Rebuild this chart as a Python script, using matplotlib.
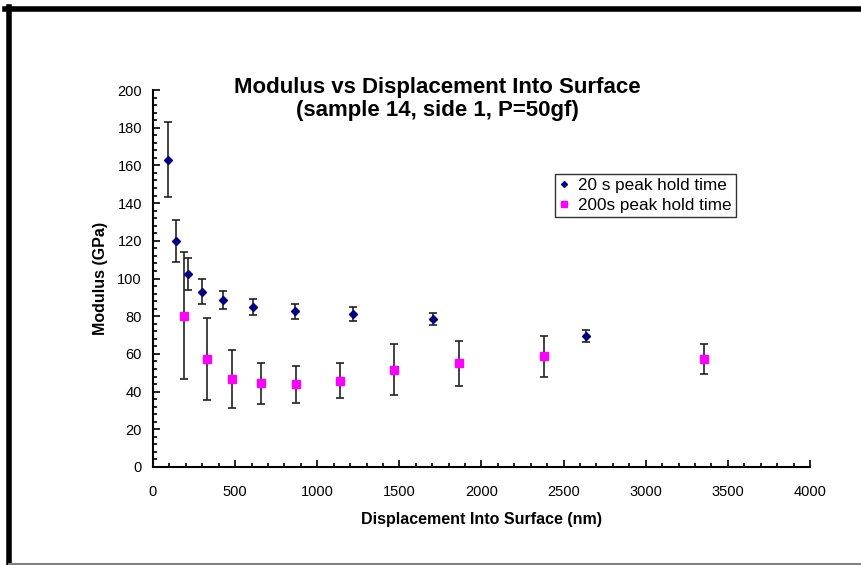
import matplotlib
matplotlib.use("Agg")
import matplotlib.pyplot as plt
from matplotlib.lines import Line2D
from matplotlib.ticker import MultipleLocator

plt.rcParams['font.family'] = ['Liberation Sans', 'DejaVu Sans']

# 20 s peak hold time
disp_20s = [89, 142, 211, 300, 428, 609, 865, 1218, 1703, 2636]
mod_20s = [163.0, 120.0, 102.4, 93.0, 88.5, 85.0, 82.5, 81.2, 78.6, 69.6]
err_20s = [20.0, 11.0, 8.5, 6.7, 4.9, 4.2, 4.0, 3.6, 3.3, 3.2]

# 200 s peak hold time
disp_200s = [191, 329, 479, 658, 869, 1140, 1465, 1863, 2382, 3353]
mod_200s = [80.3, 57.5, 46.8, 44.3, 43.8, 45.8, 51.5, 55.0, 58.8, 57.2]
err_200s = [33.7, 21.8, 15.3, 10.8, 9.7, 9.3, 13.5, 11.9, 10.8, 7.9]

label_20s = "20 s peak hold time"
label_200s = "200s peak hold time"
title = "Modulus vs Displacement Into Surface\n(sample 14, side 1, P=50gf)"
xlabel = "Displacement Into Surface (nm)"
ylabel = "Modulus (GPa)"

W, H = 862, 565
fig = plt.figure(figsize=(W / 100, H / 100), dpi=100)
ax = fig.add_axes([153 / W, 1 - 467 / H, 657 / W, 377 / H])

ebar = dict(ecolor="#222222", elinewidth=1.2, capsize=3, capthick=1.2, linestyle="none")
ax.errorbar(disp_20s, mod_20s, yerr=err_20s, marker="D", markersize=4,
            color="#000080", mec="#000080", zorder=3, **ebar)
ax.errorbar(disp_200s, mod_200s, yerr=err_200s, marker="s", markersize=5.5,
            color="#FF00FF", mec="#FF00FF", zorder=3, **ebar)

ax.set_xlim(0, 4000)
ax.set_ylim(0, 200)
ax.xaxis.set_major_locator(MultipleLocator(500))
ax.xaxis.set_minor_locator(MultipleLocator(100))
ax.yaxis.set_major_locator(MultipleLocator(20))
ax.yaxis.set_minor_locator(MultipleLocator(4))
ax.tick_params(which="major", direction="in", length=5, width=1.2, labelsize=10.5)
ax.tick_params(which="minor", direction="in", length=3, width=1.2)
ax.tick_params(axis="x", which="major", pad=13)
ax.tick_params(axis="y", which="major", pad=8)

for s in ("top", "right"):
    ax.spines[s].set_visible(False)
for s in ("left", "bottom"):
    ax.spines[s].set_linewidth(1.5)

ax.set_xlabel(xlabel, fontsize=11.5, fontweight="bold", labelpad=9)
ax.set_ylabel(ylabel, fontsize=11.5, fontweight="bold", labelpad=7)

fig.text(437 / W, 1 - 99 / H, title, ha="center", va="center",
         fontsize=16, fontweight="bold", linespacing=1.1)

handles = [
    Line2D([], [], marker="D", markersize=3, color="#000080", linestyle="none"),
    Line2D([], [], marker="s", markersize=4.5, color="#FF00FF", linestyle="none"),
]
leg = fig.legend(handles, [label_20s, label_200s], loc="upper left",
                 bbox_to_anchor=(555 / W, 1 - 174 / H), fontsize=12.3,
                 frameon=True, fancybox=False, handlelength=0.6,
                 handletextpad=0.5, labelspacing=0.25, borderpad=0.25,
                 borderaxespad=0)
leg.get_frame().set_edgecolor("black")
leg.get_frame().set_linewidth(1.0)

# chart border: heavy top and left edges, thin grey bottom edge
fig.add_artist(Line2D([5 / W, 1], [1 - 8.5 / H, 1 - 8.5 / H], color="black",
                      linewidth=4, transform=fig.transFigure))
fig.add_artist(Line2D([9.5 / W, 9.5 / W], [1 - 7 / H, 0], color="black",
                      linewidth=4, transform=fig.transFigure))
fig.add_artist(Line2D([9 / W, 1], [1 - 563.5 / H, 1 - 563.5 / H], color="#808080",
                      linewidth=1.5, transform=fig.transFigure))

fig.savefig("out.png", dpi=100)
